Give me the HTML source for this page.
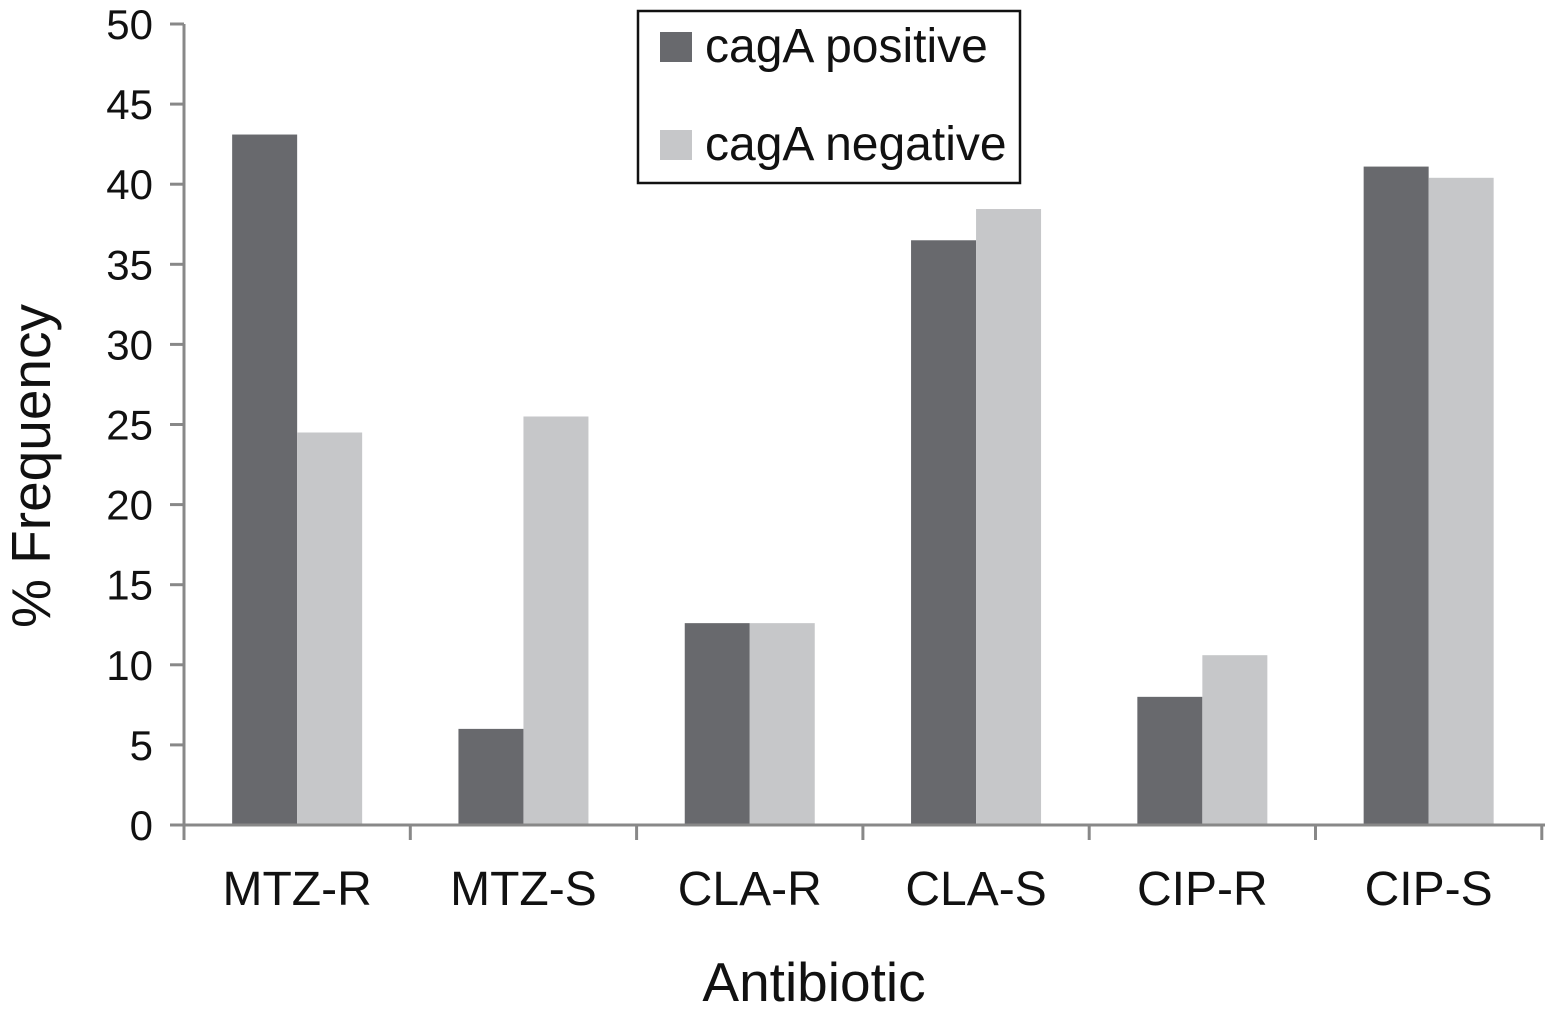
<!DOCTYPE html>
<html><head><meta charset="utf-8"><style>
html,body{margin:0;padding:0;background:#fff;}
svg{display:block;font-family:"Liberation Sans",Arial,sans-serif;}
</style></head><body>
<svg id="chart" width="1545" height="1013" viewBox="0 0 1545 1013" xmlns="http://www.w3.org/2000/svg"></svg>
<script>
const categories = ["MTZ-R","MTZ-S","CLA-R","CLA-S","CIP-R","CIP-S"];
const positiveValues = [43.1, 6.0, 12.6, 36.5, 8.0, 41.1];
const negativeValues = [24.5, 25.5, 12.6, 38.45, 10.6, 40.4];
const yTicks = [0,5,10,15,20,25,30,35,40,45,50];

const svg = document.getElementById('chart');
const NS = 'http://www.w3.org/2000/svg';
const x0 = 184, groupW = 226.3, y0 = 825, yTop = 24, yMax = 50;
const yScale = v => y0 - (v / yMax) * (y0 - yTop);
const xGroup = i => x0 + i * groupW;
const barW = 65;
function mk(tag, attrs, text){
  const e = document.createElementNS(NS, tag);
  for (const k in attrs) e.setAttribute(k, attrs[k]);
  if (text !== undefined) e.textContent = text;
  svg.appendChild(e);
  return e;
}
categories.forEach((c, i) => {
  const cx = xGroup(i) + groupW / 2;
  const b1 = mk('rect', {x: cx - barW, y: yScale(positiveValues[i]), width: barW, height: y0 - yScale(positiveValues[i]), fill: '#68696d'});
  
  
  const b2 = mk('rect', {x: cx, y: yScale(negativeValues[i]), width: barW, height: y0 - yScale(negativeValues[i]), fill: '#c6c7c9'});
  
  
  const lbl = mk('text', {x: cx, y: 905, 'font-size': 48, 'text-anchor': 'middle', fill: '#111'}, c);
  
  
});
const ya = mk('line', {x1: x0, y1: yTop, x2: x0, y2: y0, stroke: '#888', 'stroke-width': 3});


yTicks.forEach(t => {
  const y = yScale(t);
  const tk = mk('line', {x1: 170, y1: y, x2: x0, y2: y, stroke: '#888', 'stroke-width': 3});
  
  
  const tl = mk('text', {x: 153, y: y + 15, 'font-size': 42, 'text-anchor': 'end', fill: '#111'}, t);
  
  
});
const xa = mk('line', {x1: x0, y1: y0, x2: 1545, y2: y0, stroke: '#888', 'stroke-width': 3});


for (let i = 0; i <= categories.length; i++) {
  const x = Math.min(xGroup(i), 1542);
  const tk = mk('line', {x1: x, y1: y0, x2: x, y2: 840, stroke: '#888', 'stroke-width': 3});
  
  
}
const xt = mk('text', {x: 814, y: 1001, 'font-size': 55, 'text-anchor': 'middle', fill: '#111'}, 'Antibiotic');


const yt = mk('text', {x: 0, y: 0, 'font-size': 55, 'text-anchor': 'middle', fill: '#111', transform: 'translate(50,466) rotate(-90)'}, '% Frequency');


const lg = mk('rect', {x: 638, y: 11, width: 382, height: 172, fill: '#fff', stroke: '#111', 'stroke-width': 2.5});


const s1 = mk('rect', {x: 660, y: 32, width: 32, height: 30, fill: '#68696d'});


const t1 = mk('text', {x: 705, y: 62, 'font-size': 48, fill: '#111'}, 'cagA positive');


const s2 = mk('rect', {x: 660, y: 130, width: 32, height: 30, fill: '#c6c7c9'});


const t2 = mk('text', {x: 705, y: 160, 'font-size': 48, fill: '#111'}, 'cagA negative');


</script>
</body></html>
